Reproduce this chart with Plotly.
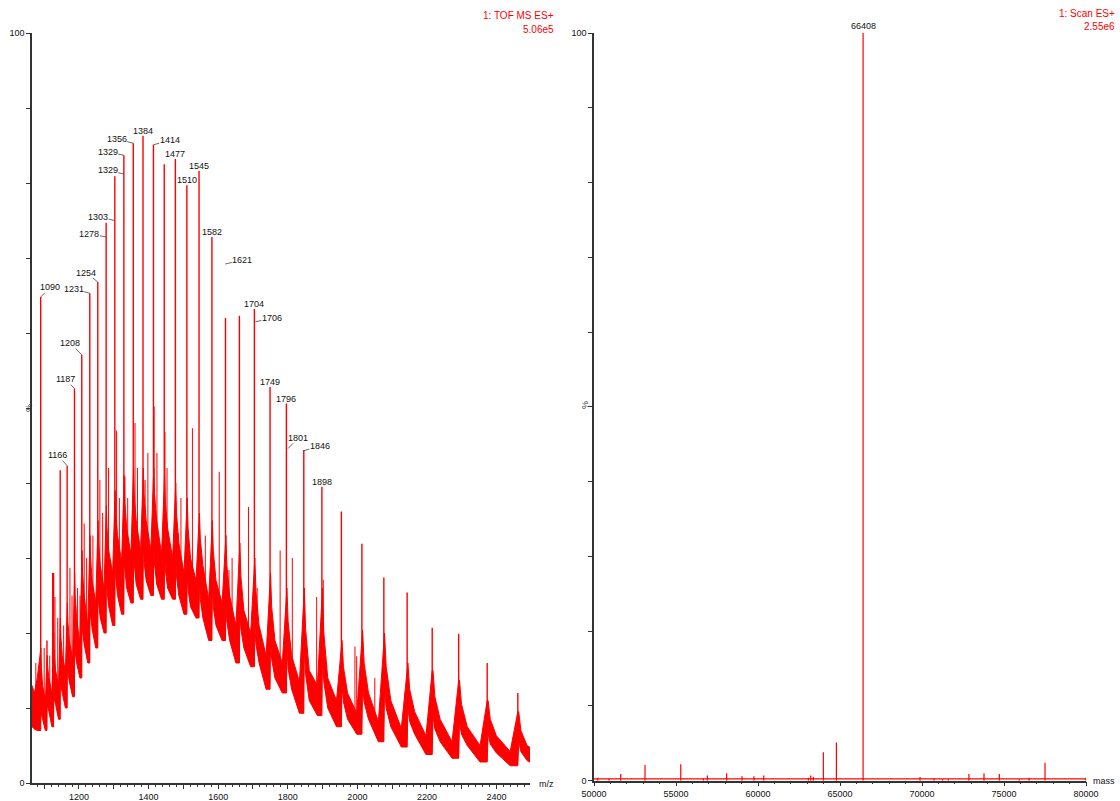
import plotly.graph_objects as go

# ---------------- left panel data (m/z spectrum) ----------------
peak_mz = [1090, 1108, 1127, 1146, 1166, 1187, 1208, 1231, 1254, 1278, 1303, 1329, 1356, 1384,
           1414, 1445, 1477, 1510, 1545, 1582, 1621, 1661, 1704, 1749, 1796, 1846, 1898, 1954,
           2013, 2076, 2143, 2215, 2291, 2373, 2461]
peak_top = [64.8, 19, 28, 41.7, 42.3, 52.6, 57.1, 65.3, 66.8, 74.7, 80.9, 83.7, 85.3, 86.3,
            85.1, 82.5, 83.2, 79.7, 81.6, 72.8, 62, 62.3, 63.2, 52.8, 50.6, 44.4, 39.5, 36.2,
            31.9, 27.4, 25.4, 20.7, 19.9, 16.0, 12.0]
# continuum (noise band) around each charge-state peak: shoulder, knee, tail, valley
shoulder_hi = [18, 17, 20, 22, 24, 28, 31, 33, 35, 37, 39, 41, 42, 42, 42, 41, 40, 38, 36, 35,
               33, 32, 30, 28, 26, 26, 26, 19, 20.4, 20, 16, 15, 13.7, 11, 9.5]
shoulder_lo = [10, 11, 12, 14, 16, 19, 22, 24, 26, 28, 30, 31, 32, 32, 32, 31, 30, 28, 27, 26,
               24, 23, 21, 19, 18, 18, 17, 13, 13, 12.5, 10, 9, 8, 6.5, 5.5]
knee_hi = [15.5, 15.5, 17.5, 19.5, 21.5, 25, 28, 30, 32, 34, 36, 37.5, 38.5, 38.5, 38.5, 37.5,
           36, 34, 32.5, 31, 29, 27.5, 25.5, 23.5, 21.5, 20.5, 20, 15.5, 16, 15.5, 12.5, 11.5,
           10.5, 8.5, 7]
knee_lo = [9.2, 10.2, 11.2, 13, 14.8, 17.5, 20.2, 22.2, 24, 25.8, 27.5, 28.5, 29.2, 29.5, 29.2,
           28.5, 27.5, 25.8, 24.5, 23.5, 21.5, 20.5, 18.5, 16.5, 15.2, 14.5, 13.5, 10.8, 10.8,
           10, 8.2, 7.2, 6.5, 5.2, 4.2]
tail_hi = [13, 14, 15, 17, 19, 22, 25, 27, 29, 31, 33, 34, 35, 35, 35, 34, 32, 30, 29, 27,
           25, 23, 21, 19, 17, 15, 14, 12, 12, 11, 9.5, 8.5, 7.5, 6.3, 5]
tail_lo = [8.5, 9.5, 10.5, 12, 13.5, 16, 18.5, 20.5, 22, 23.5, 25, 26, 26.5, 27, 26.5, 26, 25,
           23.5, 22, 21, 19, 18, 16, 14, 12.5, 11, 10, 8.5, 8.5, 7.5, 6.5, 5.5, 5, 4, 3]
valley_hi = [11, 12, 13, 15, 16.5, 18.5, 21, 24, 26, 28, 29.5, 30.5, 31, 31, 30.5, 30, 28, 27,
             24.5, 24, 21, 20, 17, 16, 13.5, 13, 11, 9.3, 8.2, 7.3, 6.3, 5.5, 5, 4.2, 3.8]
valley_lo = [7.0, 7.5, 8.5, 10, 11.5, 14, 16, 18, 20, 21, 22.5, 24, 24.5, 25, 24.5, 24.5, 22.5,
             22, 19, 19, 16, 15.5, 12.5, 12, 9.3, 9, 7.5, 6.5, 5.5, 4.8, 3.8, 3.3, 2.8, 2.3, 2.0]
lead_mz = [1065, 1072, 1080]
lead_hi = [13, 12, 14]
lead_lo = [7.5, 7.2, 7.0]
last_gap = 88

minor_mz = [1076, 1100, 1116, 1124, 1131, 1139, 1156, 1174, 1180, 1196, 1203, 1215, 1222, 1240,
            1260, 1268, 1285, 1308, 1316, 1332, 1340, 1361, 1368, 1390, 1398, 1416, 1424, 1447,
            1453, 1485, 1493, 1526, 1553, 1563, 1603, 1631, 1640, 1687, 1712, 1778, 1813, 1883,
            1902, 1993, 1998, 2050, 2137, 2222, 2300]
minor_top = [16, 18, 17, 28, 24.8, 22, 21, 28.7, 25, 26, 25, 34.6, 30, 33, 40.4, 36, 42, 47, 38,
             40.8, 38, 48, 42, 40.4, 44, 50.2, 44, 46.8, 42, 33.3, 38, 47.3, 28, 33, 41.5, 28.4,
             30, 36.8, 26, 31, 30, 24.8, 27.1, 18.2, 16.9, 14, 12.1, 10, 7]

# peak labels with leader lines: text, m/z at leader end, intensity at leader end
lead_labels = ["1090", "1166", "1187", "1208", "1231", "1254", "1278", "1303", "1329", "1329",
               "1356", "1414", "1621", "1706", "1801", "1846"]
lead_lab_mz = [1090, 1166, 1187, 1208, 1231, 1254, 1278, 1303, 1329, 1329, 1356, 1414, 1620,
               1707, 1801, 1846]
lead_lab_y = [64.8, 42.3, 52.6, 57.1, 65.3, 66.8, 72.8, 75.0, 81.2, 83.7, 85.3, 85.1, 69.2,
              61.5, 44.6, 44.3]
lead_dx = [9.6, -9.4, -9, -11.7, -16, -11.6, -16.7, -16.7, -16.2, -16.2, -16.7, 16.3, 17.2,
           16.4, 10, 16]
lead_dy = [-9.7, -10.7, -9.3, -11.7, -4.3, -9.4, -3.3, -3.4, -3.6, -3.3, -4.3, -4.3, -4, -3.4,
           -10.6, -5]
# labels directly above peaks
top_labels = ["1384", "1477", "1510", "1545", "1582", "1704", "1749", "1796", "1898"]
top_lab_mz = [1384, 1477, 1510, 1545, 1582, 1704, 1749, 1796, 1898]
top_lab_y = [86.3, 83.2, 79.7, 81.6, 72.8, 63.2, 52.8, 50.6, 39.5]

# ---------------- right panel data (deconvoluted mass) ----------------
mass_peaks = [50225, 50915, 51630, 53110, 55290, 56665, 56910, 58090, 59025, 59755, 60350,
              63070, 63215, 63375, 63985, 64780, 66408, 69880, 70730, 71260, 71600, 72860,
              73780, 74715, 75935, 76525, 77500, 79990]
mass_int = [0.4, 0.3, 0.9, 2.1, 2.2, 0.3, 0.7, 1.0, 0.6, 0.6, 0.7, 0.4, 0.7, 0.5, 3.8, 5.1,
            100, 0.5, 0.3, 0.2, 0.2, 0.9, 1.0, 0.9, 0.2, 0.4, 2.4, 0.4]
mass_baseline = 0.25
mass_label = "66408"

RED = "#ff0000"
AX = "#333333"
FONT = "Liberation Sans, Arial, sans-serif"

# ---------- build left traces ----------
bx, bhi, blo = list(lead_mz), list(lead_hi), list(lead_lo)
prev_lo = lead_lo[-1]
n = len(peak_mz)
for i, p in enumerate(peak_mz):
    g = (peak_mz[i + 1] - p) if i + 1 < n else last_gap
    bx += [p, p + 0.03 * g, p + 0.1 * g, p + 0.3 * g, p + 0.75 * g]
    bhi += [shoulder_hi[i], shoulder_hi[i], knee_hi[i], tail_hi[i], valley_hi[i]]
    blo += [prev_lo, shoulder_lo[i], knee_lo[i], tail_lo[i], valley_lo[i]]
    prev_lo = valley_lo[i]

sx, sy = [], []
for m, h in zip(minor_mz, minor_top):
    sx += [m, m, None]
    sy += [0, h, None]
px, py = [], []
for m, h in zip(peak_mz, peak_top):
    px += [m, m, None]
    py += [0, h, None]

fig = go.Figure()
fig.add_trace(go.Scatter(x=sx, y=sy, mode="lines", line=dict(color=RED, width=1),
                         xaxis="x", yaxis="y", hoverinfo="skip", showlegend=False))
fig.add_trace(go.Scatter(x=px, y=py, mode="lines", line=dict(color=RED, width=1.4),
                         xaxis="x", yaxis="y", hoverinfo="skip", showlegend=False))
# white mask below the continuum
fig.add_trace(go.Scatter(x=bx, y=blo, mode="lines", line=dict(width=0, color="white"),
                         fill="tozeroy", fillcolor="white", xaxis="x", yaxis="y",
                         hoverinfo="skip", showlegend=False))
fig.add_trace(go.Scatter(x=bx, y=blo, mode="lines", line=dict(width=1, color=RED),
                         xaxis="x", yaxis="y", hoverinfo="skip", showlegend=False))
fig.add_trace(go.Scatter(x=bx, y=bhi, mode="lines", line=dict(width=1, color=RED),
                         fill="tonexty", fillcolor=RED, xaxis="x", yaxis="y",
                         hoverinfo="skip", showlegend=False))

# ---------- right traces ----------
mx, my = [50000, 80000, None], [mass_baseline, mass_baseline, None]
for m, h in zip(mass_peaks, mass_int):
    mx += [m, m, None]
    my += [0, h, None]
fig.add_trace(go.Scatter(x=mx, y=my, mode="lines", line=dict(color=RED, width=1.2),
                         xaxis="x2", yaxis="y2", hoverinfo="skip", showlegend=False,
                         cliponaxis=False))

W, H = 1120, 801
yt = list(range(0, 101, 10))
ytt = ["0"] + [""] * 9 + ["100"]

common_axis = dict(showline=True, linecolor=AX, linewidth=1.5, ticks="outside", ticklen=4,
                   tickcolor=AX, tickwidth=1, showgrid=False, zeroline=False,
                   tickfont=dict(family=FONT, size=9, color="#111"))

left_xt = list(range(1100, 2500, 100))
left_xtt = [str(v) if v % 200 == 0 else "" for v in left_xt]
right_xt = list(range(50000, 80001, 5000))

fig.update_layout(
    width=W, height=H, template="none",
    margin=dict(l=0, r=0, t=0, b=0),
    paper_bgcolor="white", plot_bgcolor="white",
    showlegend=False,
    xaxis=dict(domain=[32 / W, 530 / W], range=[1065, 2496], anchor="y",
               tickmode="array", tickvals=left_xt, ticktext=left_xtt,
               minor=dict(ticks="outside", ticklen=2, tickcolor=AX, tickmode="linear",
                          tick0=1000, dtick=20),
               **common_axis),
    yaxis=dict(domain=[18 / H, 768 / H], range=[0, 100], anchor="x",
               tickmode="array", tickvals=yt, ticktext=ytt, **common_axis),
    xaxis2=dict(domain=[594 / W, 1086 / W], range=[50000, 80000], anchor="y2",
                tickmode="array", tickvals=right_xt, ticktext=[str(v) for v in right_xt],
                minor=dict(ticks="outside", ticklen=2, tickcolor=AX, tickmode="linear",
                           tick0=50000, dtick=1000),
                **common_axis),
    yaxis2=dict(domain=[20.3 / H, 768 / H], range=[0, 100], anchor="x2",
                tickmode="array", tickvals=yt, ticktext=ytt, **common_axis),
)

ann = []
for t, xm, yv, dx, dy in zip(lead_labels, lead_lab_mz, lead_lab_y, lead_dx, lead_dy):
    ann.append(dict(x=xm, y=yv, xref="x", yref="y", text=t, showarrow=True, arrowhead=0,
                    arrowwidth=0.8, arrowcolor="#444", ax=dx, ay=dy, standoff=0,
                    borderpad=0, font=dict(family=FONT, size=9, color="#111")))
for t, xm, yv in zip(top_labels, top_lab_mz, top_lab_y):
    ann.append(dict(x=xm, y=yv, xref="x", yref="y", text=t, showarrow=False,
                    yanchor="middle", yshift=5, font=dict(family=FONT, size=9, color="#111")))
ann.append(dict(x=66408, y=100, xref="x2", yref="y2", text=mass_label, showarrow=False,
                yanchor="middle", yshift=7, font=dict(family=FONT, size=9, color="#111")))
# % labels
ann.append(dict(x=22 / W, y=(H - 408) / H, xref="paper", yref="paper", text="%",
                showarrow=False, textangle=-90, font=dict(family=FONT, size=9, color="#333")))
ann.append(dict(x=585 / W, y=(H - 405) / H, xref="paper", yref="paper", text="%",
                showarrow=False, textangle=-90, font=dict(family=FONT, size=9, color="#333")))
# axis names
ann.append(dict(x=537 / W, y=(H - 784) / H, xref="paper", yref="paper", text="m/z",
                showarrow=False, xanchor="left", yanchor="middle",
                font=dict(family=FONT, size=9, color="#111")))
ann.append(dict(x=1091 / W, y=(H - 781) / H, xref="paper", yref="paper", text="mass",
                showarrow=False, xanchor="left", yanchor="middle",
                font=dict(family=FONT, size=9, color="#111")))
# header texts
for txt, xr, yp in [("1: TOF MS ES+", 556, 15), ("5.06e5", 556, 30),
                    ("1: Scan ES+", 1117, 13), ("2.55e6", 1117, 27)]:
    ann.append(dict(x=xr / W, y=(H - yp) / H, xref="paper", yref="paper", text=txt,
                    showarrow=False, xanchor="right", yanchor="middle",
                    font=dict(family=FONT, size=10, color=RED)))
fig.update_layout(annotations=ann)

fig.write_html("out.html")
